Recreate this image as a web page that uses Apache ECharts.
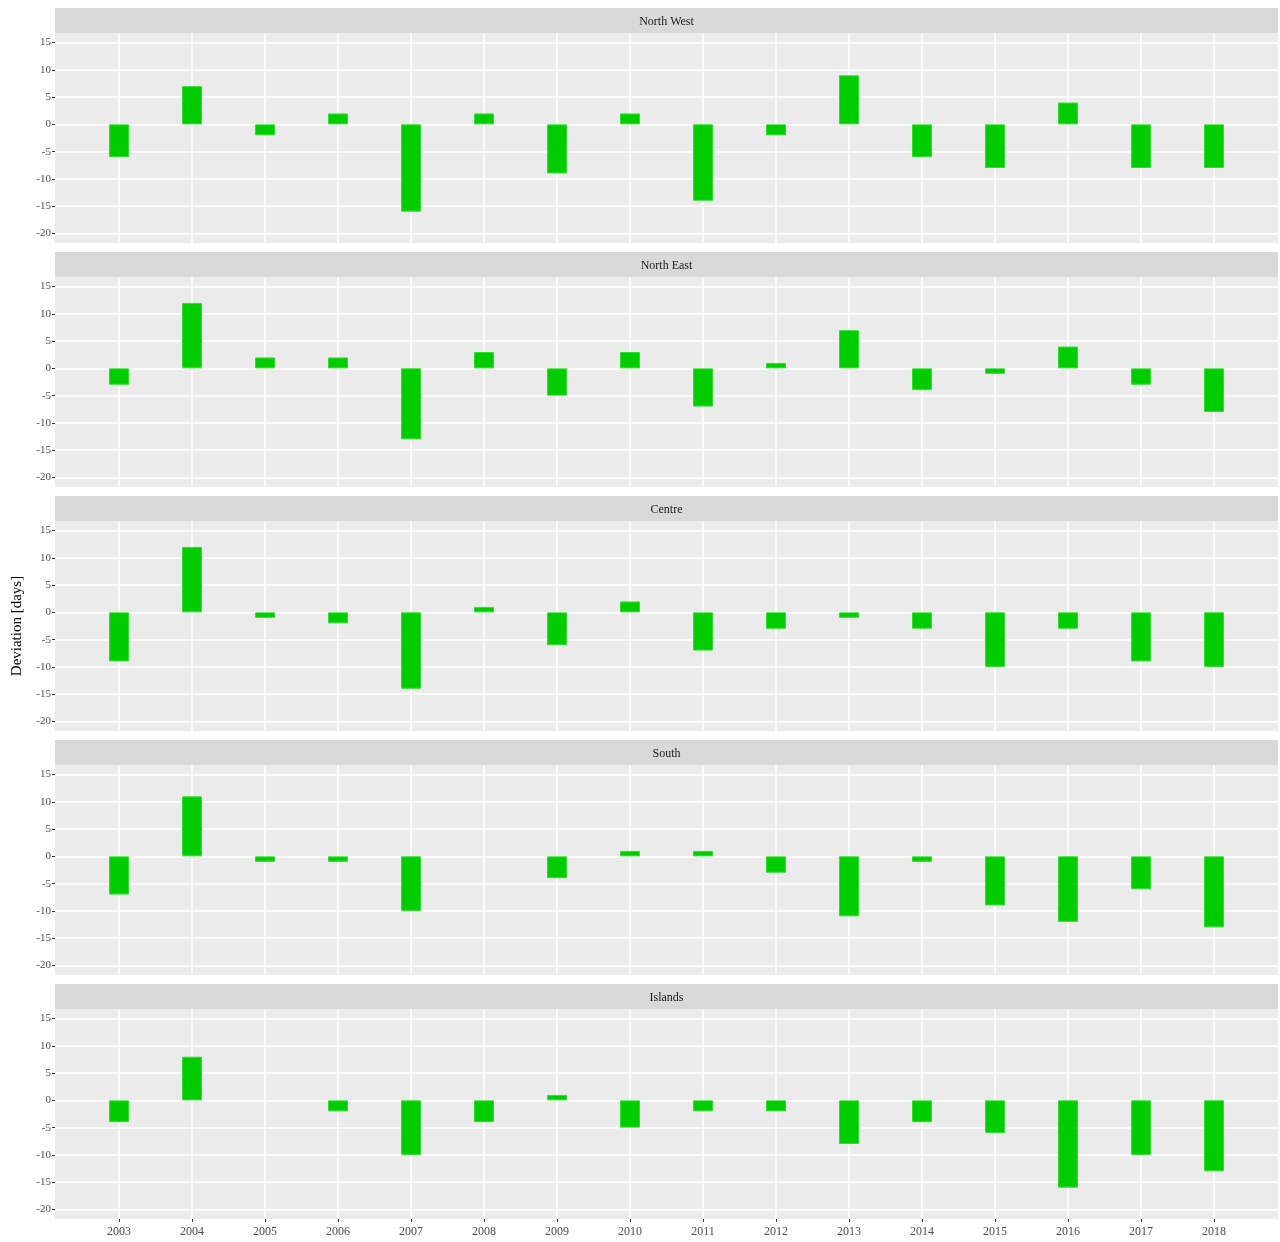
<!DOCTYPE html>
<html>
<head>
<meta charset="utf-8">
<script src="https://cdn.jsdelivr.net/npm/echarts@6/dist/echarts.min.js"></script>
<style>
  html, body { margin: 0; padding: 0; background: #ffffff; }
  #chart { width: 1280px; height: 1242px; }
</style>
</head>
<body>
<div id="chart"></div>
<script>
// Years on the shared x axis
const years = [2003, 2004, 2005, 2006, 2007, 2008, 2009, 2010, 2011, 2012, 2013, 2014, 2015, 2016, 2017, 2018];

// Facet names, top to bottom
const regions = ['North West', 'North East', 'Centre', 'South', 'Islands'];

// Deviation in days per region and year
const northWest = [-6, 7, -2, 2, -16, 2, -9, 2, -14, -2, 9, -6, -8, 4, -8, -8];
const northEast = [-3, 12, 2, 2, -13, 3, -5, 3, -7, 1, 7, -4, -1, 4, -3, -8];
const centre    = [-9, 12, -1, -2, -14, 1, -6, 2, -7, -3, -1, -3, -10, -3, -9, -10];
const south     = [-7, 11, -1, -1, -10, 0, -4, 1, 1, -3, -11, -1, -9, -12, -6, -13];
const islands   = [-4, 8, 0, -2, -10, -4, 1, -5, -2, -2, -8, -4, -6, -16, -10, -13];

// Tick values on the y axis
const yTicks = [-20, -15, -10, -5, 0, 5, 10, 15];

const seriesValues = [northWest, northEast, centre, south, islands];

const FONT = '"Liberation Serif", "DejaVu Serif", serif';
const PANEL_LEFT = 55, PANEL_RIGHT = 2;
const PANEL_TOP = 33, PANEL_H = 210, STRIP_H = 25, STEP = 244;

const grids = [], xAxes = [], yAxes = [], series = [], graphics = [];

regions.forEach((name, i) => {
  const top = PANEL_TOP + STEP * i;
  const last = i === regions.length - 1;
  grids.push({
    left: PANEL_LEFT, right: PANEL_RIGHT, top: top, height: PANEL_H,
    show: true, backgroundColor: '#EBEBEB', borderWidth: 0
  });
  xAxes.push({
    type: 'value', gridIndex: i, position: 'bottom',
    min: 2002.123, max: 2018.877,
    axisLine: { show: false, onZero: false },
    axisTick: { show: last, length: 3, lineStyle: { color: '#333333' }, customValues: years },
    axisLabel: {
      show: last, customValues: years, formatter: v => String(v),
      color: '#4D4D4D', fontFamily: FONT, fontSize: 12, margin: 7
    },
    splitLine: { show: true, lineStyle: { color: '#FFFFFF', width: 1.5 } }
  });
  yAxes.push({
    type: 'value', gridIndex: i,
    min: -21.75, max: 16.75,
    axisLine: { show: false, onZero: false },
    axisTick: { show: true, length: 3, lineStyle: { color: '#333333' }, customValues: yTicks },
    axisLabel: { customValues: yTicks, color: '#4D4D4D', fontFamily: FONT, fontSize: 11, margin: 4 },
    splitLine: { show: true, lineStyle: { color: '#FFFFFF', width: 1.5 } }
  });
  series.push({
    type: 'bar', xAxisIndex: i, yAxisIndex: i,
    barWidth: 20,
    data: years.map((y, k) => seriesValues[i][k] === 0 ? [y, null] : [y, seriesValues[i][k]]),
    itemStyle: { color: '#00CC00', borderColor: '#2EE02E', borderWidth: 1 },
    silent: true, animation: false
  });
  // facet strip
  graphics.push({
    type: 'rect', silent: true,
    shape: { x: PANEL_LEFT, y: top - STRIP_H, width: 1280 - PANEL_LEFT - PANEL_RIGHT, height: STRIP_H },
    style: { fill: '#D9D9D9' }
  });
  graphics.push({
    type: 'text', silent: true,
    x: PANEL_LEFT + (1280 - PANEL_LEFT - PANEL_RIGHT) / 2, y: top - STRIP_H / 2 + 1,
    style: { text: name, fill: '#1A1A1A', font: '12px ' + FONT, align: 'center', verticalAlign: 'middle' }
  });
});

// y axis title
graphics.push({
  type: 'text', silent: true,
  x: 17, y: PANEL_TOP + (STEP * 4 + PANEL_H) / 2,
  rotation: Math.PI / 2,
  style: { text: 'Deviation [days]', fill: '#000000', font: '15px ' + FONT, align: 'center', verticalAlign: 'middle' }
});

const chart = echarts.init(document.getElementById('chart'), null, { renderer: 'canvas' });
chart.setOption({
  backgroundColor: '#FFFFFF',
  animation: false,
  grid: grids,
  xAxis: xAxes,
  yAxis: yAxes,
  series: series,
  graphic: graphics
});
</script>
</body>
</html>
